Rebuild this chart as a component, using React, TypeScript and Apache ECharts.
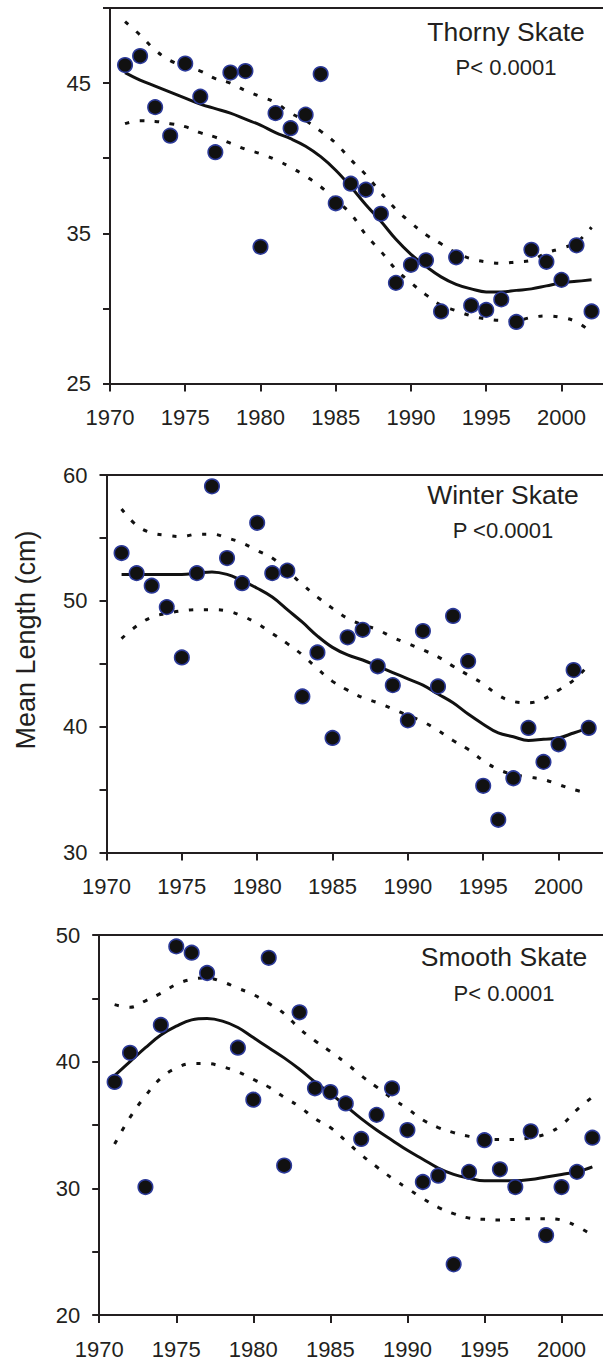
import React, { useEffect, useRef } from "react";
import * as echarts from "echarts";

// ---------- data ----------
const years = [1971, 1972, 1973, 1974, 1975, 1976, 1977, 1978, 1979, 1980, 1981, 1982, 1983, 1984, 1985, 1986,
  1987, 1988, 1989, 1990, 1991, 1992, 1993, 1994, 1995, 1996, 1997, 1998, 1999, 2000, 2001, 2002];

const xTickLabels = [1970, 1975, 1980, 1985, 1990, 1995, 2000];

// Thorny Skate
const thornyObs = [46.2, 46.8, 43.4, 41.5, 46.3, 44.1, 40.4, 45.7, 45.8, 34.1, 43.0, 42.0, 42.9, 45.6, 37.0, 38.3,
  37.9, 36.3, 31.7, 32.9, 33.2, 29.8, 33.4, 30.2, 29.9, 30.6, 29.1, 33.9, 33.1, 31.9, 34.2, 29.8];
const thornyFit = [45.7, 45.2, 44.8, 44.4, 44.0, 43.6, 43.3, 43.0, 42.6, 42.2, 41.7, 41.3, 40.8, 40.1, 39.2, 38.1,
  36.9, 35.8, 34.6, 33.6, 32.8, 32.1, 31.6, 31.3, 31.1, 31.1, 31.2, 31.3, 31.5, 31.7, 31.8, 31.9];
const thornyUpper = [49.1, 48.2, 47.2, 46.5, 46.1, 45.8, 45.3, 45.0, 44.5, 44.1, 43.7, 43.0, 42.5, 41.8, 41.0, 39.9,
  38.9, 37.7, 36.6, 35.7, 34.9, 34.3, 33.7, 33.3, 33.1, 33.0, 33.1, 33.2, 33.7, 34.0, 34.4, 35.4];
const thornyLower = [42.3, 42.5, 42.45, 42.3, 42.1, 41.7, 41.4, 41.0, 40.6, 40.3, 39.9, 39.4, 38.8, 38.1, 37.2, 36.3,
  34.9, 33.8, 32.6, 31.7, 30.9, 30.2, 29.85, 29.5, 29.3, 29.2, 29.2, 29.4, 29.5, 29.4, 29.1, 28.4];
const thornyYLabels = [25, 35, 45];

// Winter Skate
const winterObs = [53.8, 52.2, 51.2, 49.5, 45.5, 52.2, 59.1, 53.4, 51.4, 56.2, 52.2, 52.4, 42.4, 45.9, 39.1, 47.1,
  47.7, 44.8, 43.3, 40.5, 47.6, 43.2, 48.8, 45.2, 35.3, 32.6, 35.9, 39.9, 37.2, 38.6, 44.5, 39.9];
const winterFit = [52.1, 52.1, 52.1, 52.1, 52.1, 52.2, 52.3, 52.1, 51.6, 51.0, 50.3, 49.3, 48.3, 47.2, 46.3, 45.7,
  45.3, 44.8, 44.3, 43.8, 43.3, 42.6, 41.9, 41.0, 40.2, 39.5, 39.2, 38.9, 39.0, 39.1, 39.5, 39.9];
const winterUpper = [57.3, 56.0, 55.4, 55.2, 55.1, 55.3, 55.3, 55.0, 54.6, 54.0, 53.4, 52.4, 51.3, 50.3, 49.4, 48.6,
  48.1, 47.7, 47.1, 46.6, 46.1, 45.55, 44.8, 44.1, 43.4, 42.5, 42.0, 41.9, 42.2, 42.9, 43.7, 44.9];
const winterLower = [47.0, 48.0, 48.7, 49.0, 49.2, 49.3, 49.3, 49.2, 48.8, 48.2, 47.4, 46.6, 45.7, 44.6, 43.6, 42.9,
  42.3, 41.9, 41.4, 40.9, 40.4, 39.7, 38.9, 38.2, 37.3, 36.6, 36.2, 36.0, 35.8, 35.4, 35.0, 34.7];
const winterYLabels = [30, 40, 50, 60];

// Smooth Skate (no 1978 observation)
const smoothObs = [38.4, 40.7, 30.1, 42.9, 49.1, 48.6, 47.0, null, 41.1, 37.0, 48.2, 31.8, 43.9, 37.9, 37.6, 36.7,
  33.9, 35.8, 37.9, 34.6, 30.5, 31.0, 24.0, 31.3, 33.8, 31.5, 30.1, 34.5, 26.3, 30.1, 31.3, 34.0];
const smoothFit = [38.9, 40.0, 41.1, 42.1, 42.8, 43.3, 43.4, 43.2, 42.7, 41.9, 41.1, 40.3, 39.4, 38.4, 37.5, 36.5,
  35.5, 34.6, 33.8, 33.0, 32.3, 31.6, 31.1, 30.8, 30.6, 30.6, 30.6, 30.7, 30.9, 31.1, 31.3, 31.7];
const smoothUpper = [44.5, 44.3, 44.8, 45.4, 46.1, 46.5, 46.6, 46.3, 45.8, 45.3, 44.6, 43.8, 42.6, 41.65, 40.8, 39.9,
  38.9, 38.0, 37.1, 36.3, 35.4, 34.8, 34.4, 34.1, 33.9, 33.85, 33.85, 34.0, 34.3, 35.0, 36.2, 37.2];
const smoothLower = [33.5, 35.6, 37.3, 38.7, 39.5, 39.85, 39.85, 39.6, 39.2, 38.6, 38.0, 37.2, 36.45, 35.5, 34.8, 33.75,
  32.65, 31.7, 30.8, 30.0, 29.2, 28.5, 28.0, 27.65, 27.55, 27.5, 27.55, 27.6, 27.6, 27.5, 27.0, 26.3];
const smoothYLabels = [20, 30, 40, 50];

const speciesNames = ["Thorny Skate", "Winter Skate", "Smooth Skate"];
const pTexts = ["P< 0.0001", "P <0.0001", "P< 0.0001"];
const yAxisName = "Mean Length (cm)";

// ---------- layout / style ----------
const FONT = "'Liberation Sans', Arial, Helvetica, sans-serif";
const INK = "#231f20";

const panels = [
  { obs: thornyObs, fit: thornyFit, upper: thornyUpper, lower: thornyLower, yMin: 25, yMax: 50, yLabels: thornyYLabels,
    grid: { left: 110, top: 8, width: 493, height: 375.5 }, xMax: 2002.76, titleY: 32, pY: 67, tx: 506 },
  { obs: winterObs, fit: winterFit, upper: winterUpper, lower: winterLower, yMin: 30, yMax: 60, yLabels: winterYLabels,
    grid: { left: 106.5, top: 475, width: 496.5, height: 377.5 }, xMax: 2002.95, titleY: 495, pY: 530, tx: 503 },
  { obs: smoothObs, fit: smoothFit, upper: smoothUpper, lower: smoothLower, yMin: 20, yMax: 50, yLabels: smoothYLabels,
    grid: { left: 99.2, top: 935, width: 503.8, height: 380 }, xMax: 2002.69, titleY: 957, pY: 993, tx: 504 },
];

function toPairs(vals: (number | null)[]) {
  const out: [number, number][] = [];
  years.forEach((y, i) => {
    const v = vals[i];
    if (v !== null && v !== undefined) out.push([y, v]);
  });
  return out;
}

function buildOption() {
  const grid: any[] = [];
  const xAxis: any[] = [];
  const yAxis: any[] = [];
  const series: any[] = [];
  const graphic: any[] = [];

  panels.forEach((p, i) => {
    grid.push({ ...p.grid, containLabel: false });
    // bottom axis
    xAxis.push({
      type: "value",
      gridIndex: i,
      min: 1970,
      max: p.xMax,
      interval: 5,
      position: "bottom",
      axisLine: { show: true, onZero: false, lineStyle: { color: INK, width: 2 } },
      axisTick: { show: true, inside: false, length: 8, lineStyle: { color: INK, width: 2 }, customValues: xTickLabels },
      axisLabel: {
        show: true,
        margin: 23,
        fontSize: 22,
        fontFamily: FONT,
        color: INK,
        customValues: xTickLabels,
        formatter: (v: number) => (xTickLabels.indexOf(Math.round(v * 1000) / 1000) >= 0 ? String(v) : ""),
      },
      splitLine: { show: false },
    });
    // top frame line
    xAxis.push({
      type: "value",
      gridIndex: i,
      min: 1970,
      max: p.xMax,
      position: "top",
      axisLine: { show: true, onZero: false, lineStyle: { color: INK, width: 2 } },
      axisTick: { show: false },
      axisLabel: { show: false },
      splitLine: { show: false },
    });
    yAxis.push({
      type: "value",
      gridIndex: i,
      min: p.yMin,
      max: p.yMax,
      interval: 5,
      axisLine: { show: true, onZero: false, lineStyle: { color: INK, width: 2 } },
      axisTick: { show: true, inside: false, length: 7, lineStyle: { color: INK, width: 2 } },
      axisLabel: {
        show: true,
        margin: 19,
        fontSize: 22,
        fontFamily: FONT,
        color: INK,
        formatter: (v: number) => (p.yLabels.indexOf(v) >= 0 ? String(v) : ""),
      },
      splitLine: { show: false },
    });

    const xi = i * 2;
    const dashed = { color: "#111", width: 3, type: [4.5, 10.5], cap: "butt" };
    series.push({
      type: "line", xAxisIndex: xi, yAxisIndex: i, data: toPairs(p.upper), smooth: 0.4,
      showSymbol: false, symbol: "none", silent: true, lineStyle: dashed, z: 2,
    });
    series.push({
      type: "line", xAxisIndex: xi, yAxisIndex: i, data: toPairs(p.lower), smooth: 0.4,
      showSymbol: false, symbol: "none", silent: true, lineStyle: dashed, z: 2,
    });
    series.push({
      type: "line", xAxisIndex: xi, yAxisIndex: i, data: toPairs(p.fit), smooth: 0.4,
      showSymbol: false, symbol: "none", silent: true,
      lineStyle: { color: "#111", width: 3, type: "solid" }, z: 3,
    });
    series.push({
      type: "scatter", xAxisIndex: xi, yAxisIndex: i, data: toPairs(p.obs), symbol: "circle", symbolSize: 14.5,
      silent: true,
      itemStyle: { color: "#111111", borderColor: "#2c3a99", borderWidth: 1.6, opacity: 1 }, z: 4,
    });

    graphic.push({
      type: "text", x: p.tx, y: p.titleY, silent: true,
      style: { text: speciesNames[i], fontSize: 26.5, fontFamily: FONT, fill: INK,
        align: "center", verticalAlign: "middle", textAlign: "center", textVerticalAlign: "middle" },
    });
    graphic.push({
      type: "text", x: p.tx, y: p.pY, silent: true,
      style: { text: pTexts[i], fontSize: 22, fontFamily: FONT, fill: INK,
        align: "center", verticalAlign: "middle", textAlign: "center", textVerticalAlign: "middle" },
    });
  });

  graphic.push({
    type: "text", x: 26, y: 640, rotation: Math.PI / 2, silent: true,
    style: { text: yAxisName, fontSize: 27, fontFamily: FONT, fill: INK,
      align: "center", verticalAlign: "middle", textAlign: "center", textVerticalAlign: "middle" },
  });

  return {
    animation: false,
    backgroundColor: "#ffffff",
    grid,
    xAxis,
    yAxis,
    series,
    graphic,
  };
}

export default function App() {
  const ref = useRef<HTMLDivElement | null>(null);
  useEffect(() => {
    if (!ref.current) return;
    const chart = echarts.init(ref.current, null, { renderer: "svg" });
    chart.setOption(buildOption() as any);
    return () => chart.dispose();
  }, []);
  return (
    <div style={{ position: "absolute", left: 0, top: 0, width: 603, height: 1361, overflow: "hidden", background: "#fff" }}>
      <div ref={ref} style={{ width: 603, height: 1361 }} />
    </div>
  );
}
